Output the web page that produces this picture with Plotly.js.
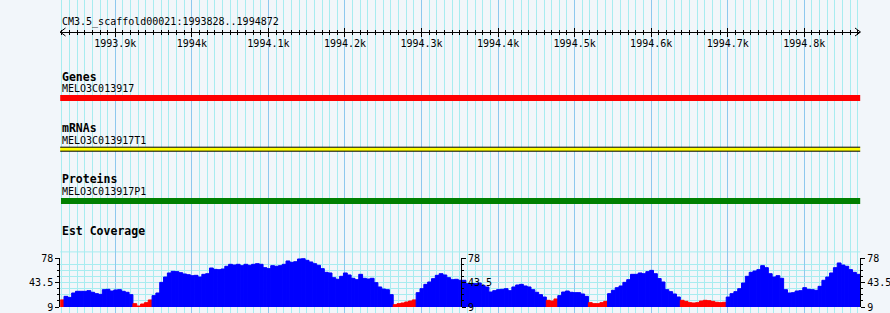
<!DOCTYPE html>
<html><head><meta charset="utf-8">
<script src="https://cdn.plot.ly/plotly-3.0.1.min.js"></script>
<style>html,body{margin:0;padding:0;background:#f2f6fa;}#chart{width:890px;height:313px;}</style>
</head><body><div id="chart"></div>
<script>
// ---- data ----
const refName = 'CM3.5_scaffold00021';
const viewStart = 1993828;
const viewEnd = 1994872;
const binSize = 5;
const coverage = [
  19, 24, 22.5, 28.7, 31.1, 31.1, 31.1, 32, 29.7, 27.8,
  26.8, 33.4, 33.9, 31.5, 33, 33.4, 31.1, 29.7, 26.4, 13.7,
  10.4, 13.2, 15.1, 18.9, 25, 28.7, 43.7, 51.2, 56.9, 59.2,
  58.8, 57.3, 55.5, 54.5, 53.1, 53.6, 51.2, 55, 55.9, 63.9,
  62, 61.6, 62.5, 66.3, 69.1, 68.1, 69.1, 67.2, 69.1, 67.7,
  69.1, 70,
  69.1, 64.4, 63, 67.2, 66.3, 67.2, 69.1, 73.8, 71.9, 72.8,
  76.6, 77, 74.7, 72.4, 70, 67.7, 63, 57.8, 56.9, 50.3,
  48, 52.2, 56.9, 54.1, 49.4, 47.5, 55, 49.4, 48.4, 49.4,
  43.3, 37.2, 34.3, 33.4, 26.4, 12.3, 13.7, 14.6, 16, 17.4,
  19, 29.2, 34.8, 40.9, 44.2, 48.9, 53.6, 55.9, 54.1, 50.3,
  47.5, 48,
  46.6, 46.6, 41.9, 41.9, 41.9, 42.8, 39.5, 37.2, 30.1, 32,
  33.4, 33.9, 34.8, 32, 37.2, 40, 40.9, 38.6, 37.2, 33.4,
  29.7, 26.4, 23, 18.4, 17.4, 20.3, 25, 30.1, 31.5, 29.7,
  29.2, 29.2, 27.3, 24, 15.1, 13.7, 13.7, 15.1, 17, 27.8,
  32.5, 36.2, 38.6, 43.7, 47.5, 55, 55, 56.9, 55.9, 58.8,
  60.6, 55.9,
  49, 44.2, 33.4, 30.6, 27.3, 23.1, 18.4, 17, 15.1, 14.6,
  15.1, 17.4, 18.4, 17.9, 17, 15.6, 15.1, 15.6, 23, 27.8,
  30.6, 34.8, 42.8, 52.2, 57.8, 59.7, 61.6, 67.2, 64.4, 55.9,
  51.2, 53.1, 49.4, 33.4, 28.7, 29.2, 31.5, 32, 36.2, 33.9,
  33.4, 32.5, 38.1, 46.6, 51.2, 56.9, 64.4, 71, 68.1, 66.3,
  61.6, 57.8, 55
];
const lowThreshold = 21;
const coverageMin = 9;
const coverageMax = 78;
const coverageTicks = [9, 43.5, 78];
const coverageTickText = ['9', '43.5', '78'];
const rulerTicks = [1993900, 1994000, 1994100, 1994200, 1994300, 1994400, 1994500, 1994600, 1994700, 1994800];
const rulerLabels = ['1993.9k', '1994k', '1994.1k', '1994.2k', '1994.3k', '1994.4k', '1994.5k', '1994.6k', '1994.7k', '1994.8k'];
const trackNames = ['Genes', 'mRNAs', 'Proteins'];
const featureNames = ['MELO3C013917', 'MELO3C013917T1', 'MELO3C013917P1'];
const featureStart = [1993826, 1993827, 1993829];
const featureEnd = [1994876, 1994876, 1994876];
const featureColors = ['#ff0000', '#ffff00', '#008000'];
const coverageTrackName = 'Est Coverage';

// ---- layout helpers ----
const W = 890, H = 313;
const px = x => x / W;
const py = y => 1 - y / H;
const bg = '#f2f6fa';
const majorGrid = '#8ec8ee';
const minorGrid = '#a8ecf0';
const mono = 'DejaVu Sans Mono, monospace';
const xDom = [px(60.2), px(860.2)];
const xRange = [viewStart, viewEnd + 1];

const binX = coverage.map((_, i) => viewStart + binSize * i + binSize / 2);
const binColor = coverage.map(v => v < lowThreshold ? '#ff0000' : '#0000ff');

const traces = [
  {type: 'scatter', x: [viewStart], y: [0], xaxis: 'x', yaxis: 'y', mode: 'markers', marker: {opacity: 0}, hoverinfo: 'skip'},
  {type: 'scatter', x: [viewStart], y: [0], xaxis: 'x2', yaxis: 'y', mode: 'markers', marker: {opacity: 0}, hoverinfo: 'skip'},
  {type: 'scatter', x: [viewStart], y: [0], xaxis: 'x3', yaxis: 'y', mode: 'markers', marker: {opacity: 0}, hoverinfo: 'skip'},
  {type: 'bar', x: binX, y: coverage, width: binSize, xaxis: 'x', yaxis: 'y2',
   marker: {color: binColor, line: {width: 1, color: binColor}}, hoverinfo: 'skip'},
  {type: 'scatter', x: [viewStart], y: [coverageMin], xaxis: 'x', yaxis: 'y3', mode: 'markers', marker: {opacity: 0}, hoverinfo: 'skip'},
  {type: 'scatter', x: [viewStart], y: [coverageMin], xaxis: 'x', yaxis: 'y4', mode: 'markers', marker: {opacity: 0}, hoverinfo: 'skip'}
];

const rulerPos = py(32);
const rulerAxis = (ticks, labels) => ({
  overlaying: 'x', anchor: 'free', position: rulerPos, side: 'bottom',
  domain: xDom, range: xRange, showgrid: false, zeroline: false,
  showline: labels, linecolor: '#000', linewidth: 1,
  ticks: ticks, ticklen: 4, tickcolor: '#000', tickwidth: 1,
  tickmode: 'array', tickvals: rulerTicks, ticktext: rulerLabels,
  showticklabels: labels, ticklabelstandoff: -2,
  tickfont: {family: mono, size: 10, color: '#000'},
  minor: {tickmode: 'linear', tick0: viewStart + 2, dtick: 10, ticks: ticks, ticklen: 2, tickcolor: '#000', tickwidth: 1, showgrid: false},
  fixedrange: true
});

const covAxis = (extra) => Object.assign({
  range: [coverageMin, coverageMax],
  domain: [py(307), py(258)],
  tickmode: 'array', tickvals: coverageTicks, ticktext: coverageTickText,
  ticks: 'outside', ticklen: 4, tickcolor: '#000', tickwidth: 1,
  showline: true, linecolor: '#000', linewidth: 1, zeroline: false,
  tickfont: {family: mono, size: 10, color: '#000'},
  minor: {tickmode: 'linear', tick0: coverageMin, dtick: (coverageMax - coverageMin) / 8, ticks: 'outside', ticklen: 2, tickcolor: '#000', showgrid: false},
  showgrid: false, fixedrange: true
}, extra);

const shapes = [];
const annotations = [];
// feature glyphs
const barY = [[95, 101], [147.2, 151.2], [198, 204]];
trackNames.forEach((t, i) => {
  shapes.push({type: 'rect', xref: 'x', yref: 'paper', x0: featureStart[i], x1: featureEnd[i],
    y0: py(barY[i][1]), y1: py(barY[i][0]), fillcolor: featureColors[i],
    line: {width: i === 1 ? 1 : 0, color: '#000'}, layer: 'above'});
});
// ruler arrowheads
shapes.push({type: 'path', xref: 'paper', yref: 'paper', path: `M ${px(65.5)},${py(28)} L ${px(60.2)},${py(32)} L ${px(65.5)},${py(36)}`, line: {color: '#000', width: 1}});
shapes.push({type: 'path', xref: 'paper', yref: 'paper', path: `M ${px(855)},${py(28)} L ${px(860.5)},${py(32)} L ${px(855)},${py(36)}`, line: {color: '#000', width: 1}});
// extra horizontal grid line above coverage top
shapes.push({type: 'line', xref: 'paper', yref: 'paper', x0: xDom[0], x1: xDom[1], y0: py(251.9), y1: py(251.9), line: {color: minorGrid, width: 1}, layer: 'below'});

const addText = (text, y, bold) => annotations.push({
  xref: 'paper', yref: 'paper', x: px(59.5), y: py(y), xanchor: 'left', yanchor: 'middle',
  text: bold ? '<b>' + text + '</b>' : text, showarrow: false,
  font: {family: mono, size: bold ? 11.5 : 10, color: '#000'}
});
addText(refName + ':' + viewStart + '..' + viewEnd, 21.5, false);
const labelY = [76.5, 128.5, 179];
const nameY = [88.5, 140.5, 191];
trackNames.forEach((t, i) => { addText(t, labelY[i], true); addText(featureNames[i], nameY[i], false); });
addText(coverageTrackName, 231, true);

const layout = {
  width: W, height: H, margin: {l: 0, r: 0, t: 0, b: 0, pad: 0},
  paper_bgcolor: bg, plot_bgcolor: 'rgba(0,0,0,0)', showlegend: false,
  xaxis: {domain: xDom, range: xRange, tickmode: 'linear', tick0: viewStart + 72, dtick: 100,
    showgrid: true, gridcolor: majorGrid, gridwidth: 1,
    minor: {tickmode: 'linear', tick0: viewStart + 2, dtick: 10, showgrid: true, gridcolor: minorGrid, gridwidth: 1},
    showticklabels: false, ticks: '', zeroline: false, showline: false, fixedrange: true},
  xaxis2: rulerAxis('outside', true),
  xaxis3: rulerAxis('inside', false),
  yaxis: {domain: [0, 1], range: [0, 1], visible: false, showgrid: false, fixedrange: true},
  yaxis2: covAxis({anchor: 'x', side: 'left', showgrid: true, gridcolor: minorGrid,
    minor: {tickmode: 'linear', tick0: coverageMin, dtick: (coverageMax - coverageMin) / 8, ticks: 'outside', ticklen: 2, tickcolor: '#000', showgrid: true, gridcolor: minorGrid}}),
  yaxis3: covAxis({overlaying: 'y2', anchor: 'free', position: px(461), side: 'right'}),
  yaxis4: covAxis({overlaying: 'y2', anchor: 'free', position: xDom[1], side: 'right'}),
  shapes: shapes, annotations: annotations
};

Plotly.newPlot('chart', traces, layout, {displayModeBar: false, staticPlot: true});
</script>
</body></html>
